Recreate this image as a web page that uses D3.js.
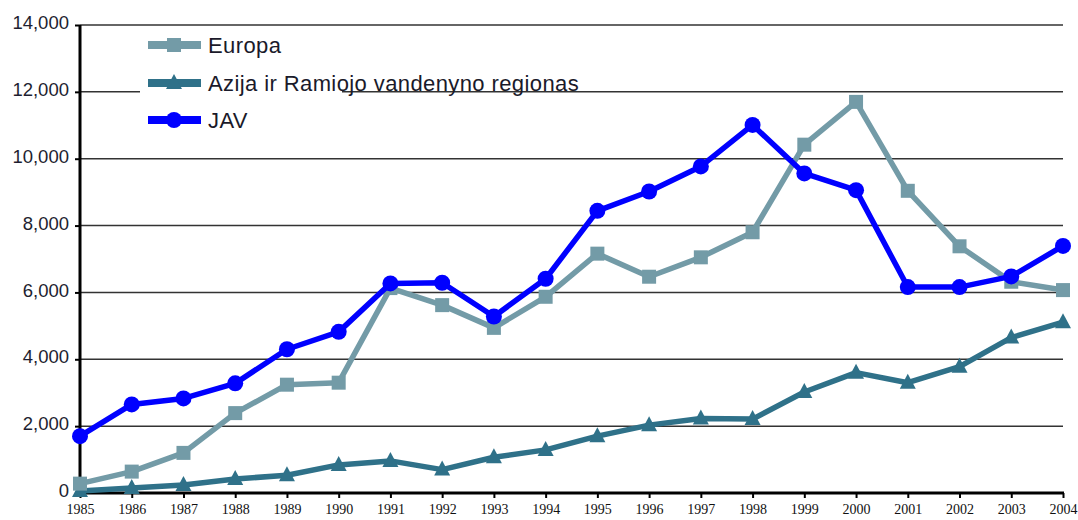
<!DOCTYPE html>
<html>
<head>
<meta charset="utf-8">
<script src="https://cdn.jsdelivr.net/npm/d3@7"></script>
<style>
  body { margin: 0; background: #fff; }
  svg { display: block; }
</style>
</head>
<body>
<svg id="chart" width="1078" height="520"></svg>
<script>
// data
var years = [1985, 1986, 1987, 1988, 1989, 1990, 1991, 1992, 1993, 1994,
             1995, 1996, 1997, 1998, 1999, 2000, 2001, 2002, 2003, 2004]
var europa = [280, 640, 1200, 2390, 3240, 3300, 6130, 5620, 4940, 5870,
              7160, 6470, 7050, 7800, 10420, 11700, 9040, 7380, 6320, 6070]
var azija = [60, 150, 240, 420, 530, 840, 960, 700, 1070, 1290,
             1700, 2030, 2230, 2210, 3020, 3600, 3300, 3780, 4650, 5110]
var jav = [1700, 2650, 2830, 3280, 4300, 4820, 6270, 6290, 5280, 6410,
           8440, 9020, 9770, 11010, 9560, 9060, 6160, 6160, 6480, 7390]
var yTicks = [0, 2000, 4000, 6000, 8000, 10000, 12000, 14000]

var series = [
  { name: 'Europa', values: europa, color: '#739ba7', marker: 'square' },
  { name: 'Azija ir Ramiojo vandenyno regionas', values: azija, color: '#2f7189', marker: 'triangle' },
  { name: 'JAV', values: jav, color: '#0000ff', marker: 'circle' }
]

var svg = d3.select('#chart')
var plotL = 80, plotR = 1063, plotT = 25, plotB = 493

var x = d3.scaleLinear().domain([1985, 2004]).range([plotL, plotR])
var y = d3.scaleLinear().domain([0, 14000]).range([plotB, plotT])

// gridlines
svg.append('g').selectAll('line')
  .data(yTicks.filter(function(d){ return d > 0 }))
  .enter().append('line')
  .attr('x1', plotL).attr('x2', plotR)
  .attr('y1', function(d){ return y(d) })
  .attr('y2', function(d){ return y(d) })
  .style('stroke', '#333')
  .style('stroke-width', 1.5)

// legend backdrop (hides part of the 12,000 line like the original)
svg.append('rect')
  .attr('x', 140).attr('y', 32)
  .attr('width', 202).attr('height', 108)
  .style('fill', '#fff')

// y axis
var yAxis = d3.axisLeft(y)
  .tickValues(yTicks)
  .tickSize(5)
  .tickPadding(6)
  .tickFormat(d3.format(','))
var gy = svg.append('g').attr('transform', 'translate(' + plotL + ',0)').call(yAxis)
gy.select('.domain').remove()
gy.selectAll('.tick line').style('stroke', '#000').style('stroke-width', 2)
gy.selectAll('.tick text')
  .attr('dy', '0.2em')
  .style('font-family', 'Liberation Sans, Arial, sans-serif')
  .style('font-size', '18.5px')
  .style('fill', '#1e1e30')
svg.append('line')
  .attr('x1', plotL).attr('x2', plotL)
  .attr('y1', plotT).attr('y2', plotB + 1)
  .style('stroke', '#000').style('stroke-width', 3)

// x axis
var xAxis = d3.axisBottom(x)
  .tickValues(years)
  .tickSize(5)
  .tickPadding(6)
  .tickFormat(d3.format('d'))
var gx = svg.append('g').attr('transform', 'translate(0,' + plotB + ')').call(xAxis)
gx.select('.domain').remove()
gx.selectAll('.tick line').style('stroke', '#000').style('stroke-width', 2)
gx.selectAll('.tick text')
  .style('font-family', 'Liberation Serif, Times New Roman, serif')
  .style('font-size', '14px')
  .style('fill', '#111')
svg.append('line')
  .attr('x1', plotL - 1).attr('x2', plotR + 1)
  .attr('y1', plotB).attr('y2', plotB)
  .style('stroke', '#000').style('stroke-width', 3)

function drawMarker(g, type, color){
  if(type == 'square'){
    g.append('rect').attr('x', -7).attr('y', -7).attr('width', 14).attr('height', 14)
      .style('fill', color)
  } else if(type == 'triangle'){
    g.append('path').attr('d', 'M0,-9 L8,6 L-8,6 Z').style('fill', color)
  } else {
    g.append('circle').attr('r', 8).style('fill', color)
  }
}

var line = d3.line()
  .x(function(d, i){ return x(years[i]) })
  .y(function(d){ return y(d) })

// draw in order: Azija, Europa, JAV on top
var order = [1, 0, 2]
order.forEach(function(k){
  var s = series[k]
  svg.append('path')
    .datum(s.values)
    .attr('d', line)
    .style('fill', 'none')
    .style('stroke', s.color)
    .style('stroke-width', 5.5)
    .style('stroke-linejoin', 'round')
  svg.append('g').selectAll('g')
    .data(s.values)
    .enter().append('g')
    .attr('transform', function(d, i){ return 'translate(' + x(years[i]) + ',' + y(d) + ')' })
    .each(function(){ drawMarker(d3.select(this), s.marker, s.color) })
})

// legend
var legY = [45, 83, 120]
series.forEach(function(s, i){
  var g = svg.append('g').attr('transform', 'translate(0,' + legY[i] + ')')
  g.append('line')
    .attr('x1', 148).attr('x2', 201)
    .attr('y1', 0).attr('y2', 0)
    .style('stroke', s.color).style('stroke-width', 8)
  var m = g.append('g').attr('transform', 'translate(174,0)')
  drawMarker(m, s.marker, s.color)
  g.append('text')
    .attr('x', 208).attr('y', 0).attr('dy', '0.36em')
    .text(s.name)
    .style('font-family', 'Liberation Sans, Arial, sans-serif')
    .style('font-size', '22px')
    .style('letter-spacing', '0.4px')
    .style('fill', '#1a1a2a')
})
</script>
</body>
</html>
